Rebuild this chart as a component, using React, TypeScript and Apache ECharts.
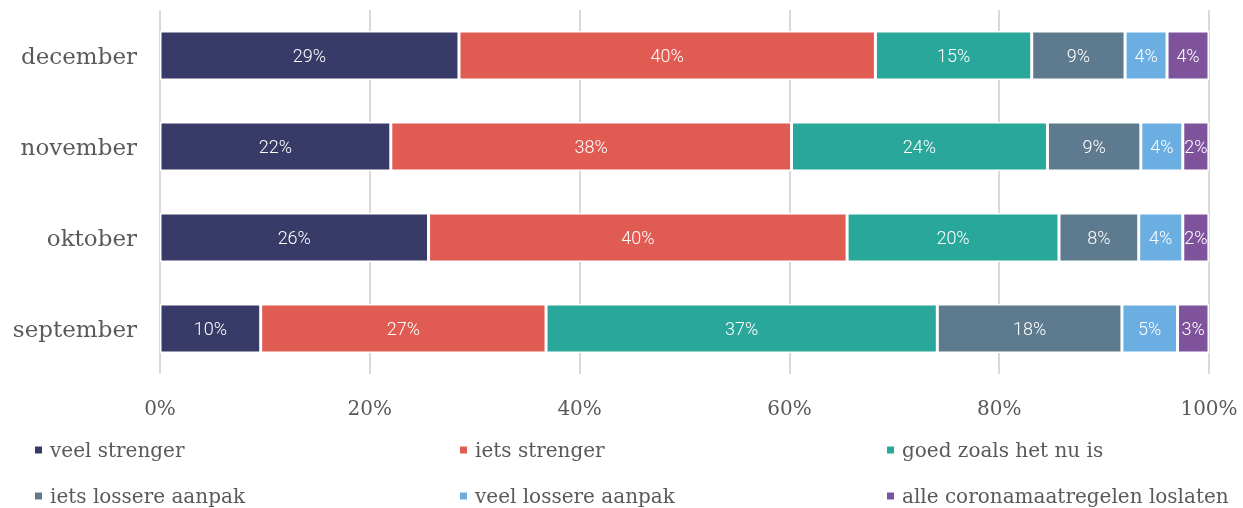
import React, { useEffect, useRef } from "react";
import * as echarts from "echarts";

const categories = ["september", "oktober", "november", "december"];
const seriesNames = [
  "veel strenger",
  "iets strenger",
  "goed zoals het nu is",
  "iets lossere aanpak",
  "veel lossere aanpak",
  "alle coronamaatregelen loslaten",
];
const veelStrenger = [9.6, 25.6, 22.0, 28.5];
const ietsStrenger = [27.2, 39.9, 38.2, 39.7];
const goedZoals = [37.3, 20.2, 24.4, 14.9];
const ietsLosser = [17.6, 7.6, 8.9, 8.9];
const veelLosser = [5.3, 4.2, 4.0, 4.0];
const alleLoslaten = [3.0, 2.49, 2.49, 4.0];
const xTicks = [0, 20, 40, 60, 80, 100];
const colors = ["#383B67", "#E05C52", "#2AA79B", "#5E7A8F", "#6AAEE2", "#7E539C"];

const allValues = [veelStrenger, ietsStrenger, goedZoals, ietsLosser, veelLosser, alleLoslaten];

export default function App() {
  const ref = useRef<HTMLDivElement>(null);
  useEffect(() => {
    if (!ref.current) return;
    const chart = echarts.init(ref.current, undefined, { renderer: "svg" });
    const serif = "'DejaVu Serif', serif";
    const legendPos = [
      { left: 28, top: 435 },
      { left: 453, top: 435 },
      { left: 880, top: 435 },
      { left: 28, top: 481 },
      { left: 453, top: 481 },
      { left: 880, top: 481 },
    ];
    chart.setOption({
      animation: false,
      color: colors,
      grid: { left: 160, right: 34, top: 10, bottom: 134, containLabel: false },
      xAxis: {
        type: "value",
        min: 0,
        max: 100,
        interval: 20,
        axisLabel: {
          formatter: (v: number) => (xTicks.includes(v) ? v + "%" : ""),
          color: "#595959",
          fontSize: 20,
          fontFamily: serif,
          margin: 24,
        },
        axisLine: { show: false },
        axisTick: { show: false },
        splitLine: { lineStyle: { color: "#D9D9D9", width: 2 } },
      },
      yAxis: {
        type: "category",
        data: categories,
        axisLabel: { color: "#595959", fontSize: 23, fontFamily: serif, margin: 23 },
        axisLine: { show: false },
        axisTick: { show: false },
      },
      legend: seriesNames.map((n, i) => ({
        data: [n],
        left: legendPos[i].left,
        top: legendPos[i].top,
        icon: "rect",
        itemWidth: 9,
        itemHeight: 9,
        itemGap: 6,
        textStyle: { color: "#595959", fontSize: 20, fontFamily: serif, padding: [0, 0, 0, 2] },
        selectedMode: false,
      })),
      series: seriesNames.map((n, i) => ({
        name: n,
        type: "bar",
        stack: "total",
        barWidth: 49,
        data: allValues[i],
        itemStyle: { color: colors[i], borderColor: "#ffffff", borderWidth: 1.5 },
        label: {
          show: true,
          position: "inside",
          color: "#ffffff",
          fontSize: 18,
          fontWeight: 300,
          fontFamily: "Roboto, sans-serif",
          formatter: (p: any) => Math.round(p.value) + "%",
        },
      })),
    });
    return () => chart.dispose();
  }, []);
  return (
    <div
      ref={ref}
      style={{ position: "fixed", left: 0, top: 0, width: 1243, height: 508 }}
    />
  );
}
